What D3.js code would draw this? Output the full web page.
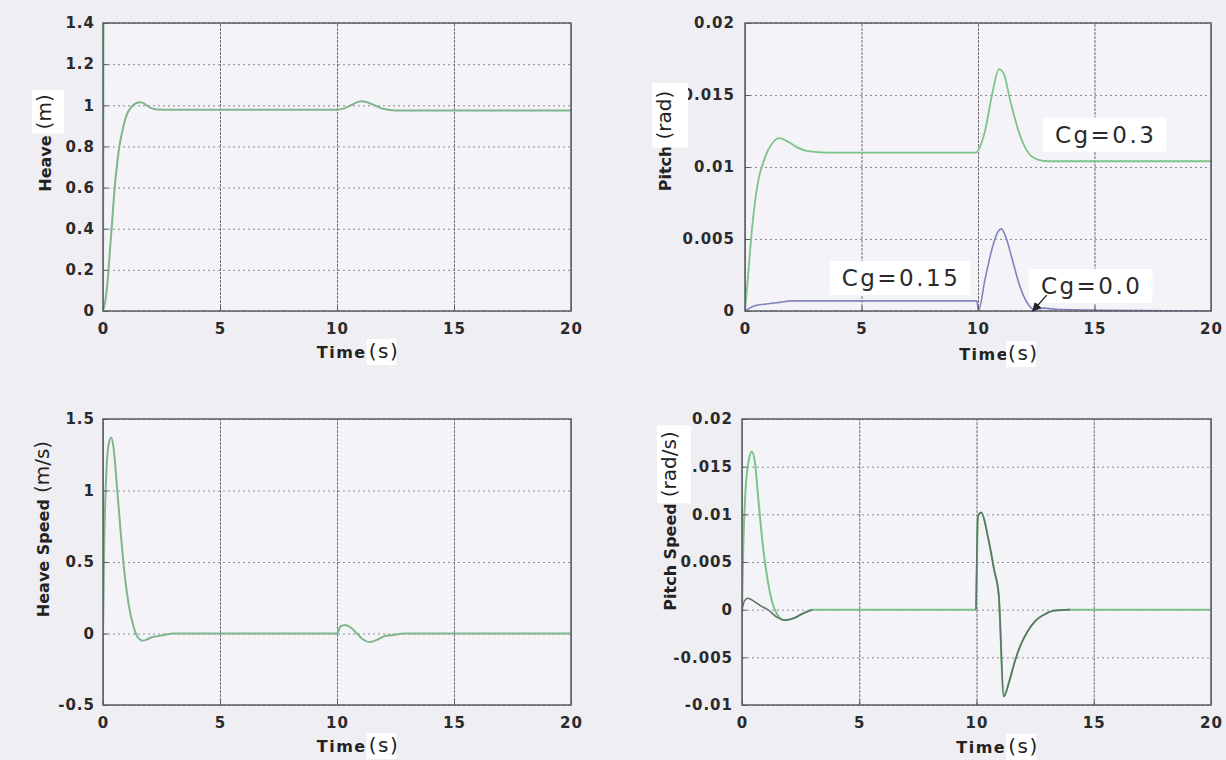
<!DOCTYPE html>
<html>
<head>
<meta charset="utf-8">
<script src="https://cdn.jsdelivr.net/npm/d3@7"></script>
<style>
body { margin: 0; background: #efeef3; }
text { font-family: "DejaVu Sans", sans-serif; }
</style>
</head>
<body>
<div id="canvas"></div>
<script>
"use strict"

/* Tick labels */
let timeTicks = [0, 5, 10, 15, 20];
let heaveTicks = [0, 0.2, 0.4, 0.6, 0.8, 1, 1.2, 1.4];
let pitchTicks = [0, 0.005, 0.01, 0.015, 0.02];
let heaveSpeedTicks = [-0.5, 0, 0.5, 1, 1.5];
let pitchSpeedTicks = [-0.01, -0.005, 0, 0.005, 0.01, 0.015, 0.02];

/* Heave (m) */
let heaveTime = [0, 0.1, 0.2, 0.3, 0.4, 0.5, 0.6, 0.7, 0.8, 0.9, 1.0, 1.2, 1.4, 1.6, 1.8, 2.0, 2.3, 3.0, 10.0, 10.3, 10.6, 11.0, 11.3, 11.6, 12.0, 12.5, 20];
let heaveValue = [0, 0.05, 0.15, 0.3, 0.45, 0.6, 0.71, 0.8, 0.86, 0.91, 0.95, 0.99, 1.01, 1.015, 1.005, 0.99, 0.98, 0.978, 0.978, 0.985, 1.0, 1.02, 1.015, 1.0, 0.982, 0.975, 0.975];
// first sample of the other run shoots off the top at t=0
let heaveEdgeTime = [0, 0.02];
let heaveEdgeValue = [0, 1.5];

/* Pitch (rad) */
let pitchTime03 = [0, 0.1, 0.2, 0.3, 0.4, 0.5, 0.6, 0.8, 1.0, 1.2, 1.45, 1.8, 2.2, 2.7, 3.5, 9.9, 10.3, 10.6, 10.9, 11.1, 11.4, 11.8, 12.2, 12.6, 13.0, 20];
let pitchValue03 = [0, 0.0018, 0.0038, 0.0057, 0.0072, 0.0084, 0.0093, 0.0104, 0.0112, 0.0117, 0.012, 0.0118, 0.0114, 0.0111, 0.011, 0.011, 0.0125, 0.015, 0.0168, 0.0165, 0.0145, 0.0122, 0.0109, 0.0105, 0.0104, 0.0104];
let pitchTime015 = [0, 0.2, 0.5, 1.0, 1.5, 2.0, 3.0, 9.95, 10.02, 10.3, 10.6, 10.85, 11.0, 11.2, 11.5, 11.8, 12.1, 12.4, 12.8, 13.5, 20];
let pitchValue015 = [0, 0.0002, 0.0004, 0.0005, 0.0006, 0.0007, 0.0007, 0.0007, 0, 0.0022, 0.0043, 0.0055, 0.0057, 0.0051, 0.0034, 0.0017, 0.0006, 0.0001, 0.0002, 0.0001, 0];

/* Heave speed (m/s) */
let heaveSpeedTime = [0, 0.05, 0.15, 0.25, 0.35, 0.45, 0.6, 0.75, 0.9, 1.1, 1.3, 1.5, 1.7, 1.9, 2.1, 2.3, 2.6, 3.0, 10.0, 10.15, 10.35, 10.6, 10.85, 11.1, 11.4, 11.7, 12.0, 12.4, 12.9, 20];
let heaveSpeedValue = [0, 0.6, 1.15, 1.33, 1.37, 1.3, 1.02, 0.72, 0.45, 0.2, 0.05, -0.03, -0.05, -0.04, -0.025, -0.02, -0.01, 0, 0, 0.05, 0.06, 0.04, 0.0, -0.04, -0.06, -0.045, -0.02, -0.01, 0, 0];

/* Pitch speed (rad/s); null = hidden under the other run */
let pitchSpeedTime03 = [0, 0.05, 0.15, 0.3, 0.42, 0.55, 0.7, 0.9, 1.1, 1.4, 1.8, 2.2, 2.6, 3.0, 9.98, 10.06, 10.2, 10.5, 10.75, 10.95, 11.16, 11.4, 11.65, 11.9, 12.15, 12.5, 12.9, 13.3, 14, 20];
let pitchSpeedValue03 = [0, 0.006, 0.0125, 0.0158, 0.0166, 0.0155, 0.0115, 0.0065, 0.003, 0, -0.0011, -0.0009, -0.0004, 0, 0, 0.0098, 0.0102, 0.0075, 0.0042, 0.0015, -0.0091, -0.0075, -0.0053, -0.0036, -0.0024, -0.0012, -0.0005, -0.0001, 0, 0];
let pitchSpeedTime015 = [0, 0.1, 0.25, 0.5, 0.8, 1.1, 1.5, 1.8, 2.2, 2.6, 3.0, 6.0, 9.98, 10.06, 10.2, 10.5, 10.75, 10.95, 11.16, 11.4, 11.65, 11.9, 12.15, 12.5, 12.9, 13.3, 14];
let pitchSpeedValue015 = [0, 0.0009, 0.0012, 0.0009, 0.0004, 0, -0.0008, -0.0011, -0.0009, -0.0004, 0, null, 0, 0.0098, 0.0102, 0.0075, 0.0042, 0.0015, -0.0091, -0.0075, -0.0053, -0.0036, -0.0024, -0.0012, -0.0005, -0.0001, 0];

/* Annotations on the pitch plot: [text, time, value] */
let cgLabels = [["Cg=0.3", 13.3, 0.0117], ["Cg=0.15", 4.15, 0.00174], ["Cg=0.0", 12.7, 0.00118]];

/* Colours */
let green = "#7cc487";
let blue = "#8083bd";
let dark = "#5d7466";

function zip(ts, vs) {
    return ts.map(function (t, i) { return [t, vs[i]]; });
}

let svg = d3.select("#canvas")
    .append("svg")
    .attr("width", 1226)
    .attr("height", 760);

svg.append("rect")
    .attr("width", 1226)
    .attr("height", 760)
    .attr("fill", "#efeef3");

/* label made of a bold word and a pasted-in unit, centred on 0 */
function compositeLabel(parent, main, unit, gap, box) {
    let t1 = parent.append("text")
        .attr("font-weight", "bold")
        .attr("font-size", 16)
        .attr("fill", "#222")
        .text(main);
    let w1 = t1.node().getComputedTextLength();
    let rect = parent.append("rect").attr("fill", "#ffffff");
    let t2 = parent.append("text")
        .attr("font-size", 20)
        .attr("fill", "#222")
        .text(unit);
    let w2 = t2.node().getComputedTextLength();
    let total = w1 + gap + w2;
    t1.attr("x", -total / 2);
    t2.attr("x", -total / 2 + w1 + gap);
    if (box) {
        rect.attr("x", -total / 2 + w1 + gap - box[0])
            .attr("y", -19)
            .attr("width", w2 + 2 * box[0])
            .attr("height", 26 + box[1]);
    }
}

function drawPanel(p) {
    let x = d3.scaleLinear().domain([0, 20]).range([p.left, p.right]);
    let y = d3.scaleLinear().domain(p.domain).range([p.bottom, p.top]);
    let w = p.right - p.left;
    let h = p.bottom - p.top;
    let g = svg.append("g");

    g.append("rect")
        .attr("x", p.left).attr("y", p.top)
        .attr("width", w).attr("height", h)
        .attr("fill", "#f4f3f8");

    /* grid */
    g.append("g")
        .attr("transform", "translate(" + p.left + ",0)")
        .call(d3.axisLeft(y).tickValues(p.ticks).tickSize(-w).tickFormat(""))
        .call(function (a) { a.select(".domain").remove(); })
        .selectAll("line")
        .attr("stroke", "#8d8c96")
        .attr("stroke-dasharray", "2,3");
    g.append("g")
        .attr("transform", "translate(0," + p.bottom + ")")
        .call(d3.axisBottom(x).tickValues(timeTicks).tickSize(-h).tickFormat(""))
        .call(function (a) { a.select(".domain").remove(); })
        .selectAll("line")
        .attr("stroke", "#707078")
        .attr("stroke-dasharray", "3,1");

    /* series */
    let clipId = "clip" + p.id;
    svg.append("clipPath").attr("id", clipId)
        .append("rect")
        .attr("x", p.left).attr("y", p.top)
        .attr("width", w).attr("height", h);
    let line = d3.line()
        .defined(function (d) { return d[1] !== null; })
        .x(function (d) { return x(d[0]); })
        .y(function (d) { return y(d[1]); })
        .curve(d3.curveMonotoneX);
    p.series.forEach(function (s) {
        g.append("path")
            .datum(zip(s.t, s.v))
            .attr("clip-path", "url(#" + clipId + ")")
            .attr("fill", "none")
            .attr("stroke", s.color)
            .attr("stroke-width", s.width)
            .attr("d", line);
    });

    /* box */
    g.append("rect")
        .attr("x", p.left).attr("y", p.top)
        .attr("width", w).attr("height", h)
        .attr("fill", "none")
        .attr("stroke", "#5a5a62")
        .attr("stroke-width", 1.5);

    /* axes with inward ticks */
    let xAxis = g.append("g")
        .attr("transform", "translate(0," + p.bottom + ")")
        .call(d3.axisBottom(x).tickValues(timeTicks).tickSize(-5).tickPadding(12).tickFormat(String));
    let yAxis = g.append("g")
        .attr("transform", "translate(" + p.left + ",0)")
        .call(d3.axisLeft(y).tickValues(p.ticks).tickSize(-5).tickPadding(p.pad).tickFormat(String));
    [xAxis, yAxis].forEach(function (a) {
        a.select(".domain").remove();
        a.selectAll("line").attr("stroke", "#5a5a62");
        a.attr("font-family", null).attr("font-size", null);
        a.selectAll("text")
            .attr("font-size", 15)
            .attr("font-weight", "bold")
            .attr("letter-spacing", 1)
            .attr("fill", "#2a2a2a");
    });

    /* x label */
    let xl = g.append("g")
        .attr("transform", "translate(" + x(10.8) + "," + p.xLabelY + ")");
    compositeLabel(xl, "Time", "(s)", p.xGap, [2, 0]);
    xl.selectAll("text").attr("letter-spacing", 1.5);

    /* y label */
    let yl = g.append("g")
        .attr("transform", "translate(" + (p.left + p.yLabelDx) + "," + p.yLabelY + ") rotate(-90)");
    compositeLabel(yl, p.yMain, p.yUnit, 6, p.yBox);

    return { x: x, y: y, g: g };
}

let heavePanel = drawPanel({
    id: 1, left: 103, right: 571, top: 23, bottom: 311, pad: 8,
    domain: [0, 1.4], ticks: heaveTicks,
    xLabelY: 358, xGap: 8, yLabelDx: -52, yLabelY: 143,
    yMain: "Heave", yUnit: "(m)", yBox: [4, 6],
    series: [
        { t: heaveEdgeTime, v: heaveEdgeValue, color: green, width: 2 },
        { t: heaveTime, v: heaveValue, color: "#7fb68c", width: 2 }
    ]
});

let pitchPanel = drawPanel({
    id: 2, left: 745, right: 1211, top: 23, bottom: 311, pad: 10,
    domain: [0, 0.02], ticks: pitchTicks,
    xLabelY: 360, xGap: 5, yLabelDx: -74, yLabelY: 141,
    yMain: "Pitch", yUnit: "(rad)", yBox: [8, 10],
    series: [
        { t: pitchTime015, v: pitchValue015, color: blue, width: 1.6 },
        { t: pitchTime03, v: pitchValue03, color: green, width: 1.8 }
    ]
});

drawPanel({
    id: 3, left: 103, right: 571, top: 419, bottom: 705, pad: 8,
    domain: [-0.5, 1.5], ticks: heaveSpeedTicks,
    xLabelY: 752, xGap: 8, yLabelDx: -54, yLabelY: 529,
    yMain: "Heave Speed", yUnit: "(m/s)", yBox: null,
    series: [
        { t: heaveSpeedTime, v: heaveSpeedValue, color: "#7fb68c", width: 2 }
    ]
});

drawPanel({
    id: 4, left: 742, right: 1211, top: 419, bottom: 705, pad: 9,
    domain: [-0.01, 0.02], ticks: pitchSpeedTicks,
    xLabelY: 753, xGap: 8, yLabelDx: -66, yLabelY: 521,
    yMain: "Pitch Speed", yUnit: "(rad/s)", yBox: [6, 8],
    series: [
        { t: pitchSpeedTime03, v: pitchSpeedValue03, color: green, width: 2 },
        { t: pitchSpeedTime015, v: pitchSpeedValue015, color: dark, width: 1.6 }
    ]
});

/* Cg annotations */
let px = pitchPanel.x;
let py = pitchPanel.y;
cgLabels.forEach(function (c) {
    let t = pitchPanel.g.append("text")
        .attr("x", px(c[1]))
        .attr("y", py(c[2]))
        .attr("font-family", "DejaVu Sans Mono")
        .attr("font-size", 23)
        .attr("letter-spacing", 2.5)
        .attr("fill", "#2a2a2a")
        .text(c[0]);
    let b = t.node().getBBox();
    pitchPanel.g.insert("rect", function () { return t.node(); })
        .attr("x", b.x - 12).attr("y", b.y - 4)
        .attr("width", b.width + 22).attr("height", b.height + 8)
        .attr("fill", "#ffffff");
});

/* arrow from Cg=0.0 down to its curve */
svg.append("defs").append("marker")
    .attr("id", "head")
    .attr("viewBox", "0 0 10 10")
    .attr("refX", 9).attr("refY", 5)
    .attr("markerWidth", 7).attr("markerHeight", 7)
    .attr("orient", "auto")
    .append("path")
    .attr("d", "M0,0L10,5L0,10z")
    .attr("fill", "#222");
pitchPanel.g.append("line")
    .attr("x1", px(12.95)).attr("y1", py(0.0011))
    .attr("x2", px(12.35)).attr("y2", py(0))
    .attr("stroke", "#222")
    .attr("stroke-width", 1.3)
    .attr("marker-end", "url(#head)");
</script>
</body>
</html>
